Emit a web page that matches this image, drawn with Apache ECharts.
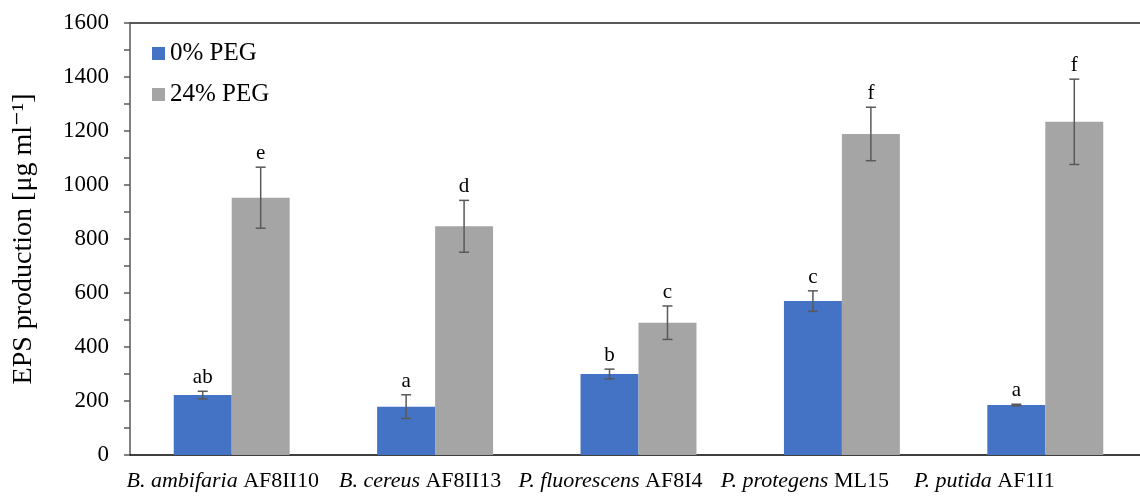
<!DOCTYPE html>
<html>
<head>
<meta charset="utf-8">
<script src="https://cdn.jsdelivr.net/npm/echarts@6/dist/echarts.min.js"></script>
<style>
  html, body { margin: 0; padding: 0; background: #fff; }
  #chart { width: 1140px; height: 502px; }
</style>
</head>
<body>
<div id="chart"></div>
<script>
const species = ['B. ambifaria', 'B. cereus', 'P. fluorescens', 'P. protegens', 'P. putida'];
const strains = ['AF8II10', 'AF8II13', 'AF8I4', 'ML15', 'AF1I1'];
const categories = species.map((s, i) => s + ' ' + strains[i]);

const peg0 = [222, 179, 300, 570, 185];
const peg0Err = [14, 44, 18, 38, 3];
const peg0Letters = ['ab', 'a', 'b', 'c', 'a'];

const peg24 = [953, 847, 490, 1189, 1234];
const peg24Err = [113, 96, 62, 99, 158];
const peg24Letters = ['e', 'd', 'c', 'f', 'f'];

const FONT = '"Liberation Serif", "DejaVu Serif", serif';
const CAT_GAP = 0.43;
// the original's labels drift left of their bar groups; emulate with a trailing spacer
const labelShift = [9, 15, 28, 37, 61];

const chart = echarts.init(document.getElementById('chart'), null, { renderer: 'canvas' });

// error bars + significance letters, side: -1 left bar, +1 right bar
function errorSeries(name, values, errs, letters, side) {
  return {
    type: 'custom',
    name: name + ' err',
    z: 5,
    clip: false,
    data: values.map((v, i) => [i, v, errs[i]]),
    renderItem: (params, api) => {
      const idx = api.value(0);
      const val = api.value(1);
      const err = api.value(2);
      const catW = api.size([1, 0])[0];
      const barW = catW * (1 - CAT_GAP) / 2;
      const center = api.coord([idx, val]);
      const x = center[0] + side * barW / 2;
      const yHi = api.coord([idx, val + err])[1];
      const yLo = api.coord([idx, val - err])[1];
      const cap = 5;
      const st = { stroke: '#595959', lineWidth: 1.5 };
      return {
        type: 'group',
        children: [
          { type: 'line', shape: { x1: x, y1: yHi, x2: x, y2: yLo }, style: st },
          { type: 'line', shape: { x1: x - cap, y1: yHi, x2: x + cap, y2: yHi }, style: st },
          { type: 'line', shape: { x1: x - cap, y1: yLo, x2: x + cap, y2: yLo }, style: st },
          {
            type: 'text',
            x: x, y: yHi - 3,
            style: {
              text: letters[idx],
              fill: '#000',
              font: '21px ' + FONT,
              textAlign: 'center',
              textVerticalAlign: 'bottom'
            }
          }
        ]
      };
    }
  };
}

const labelRich = { i: { fontStyle: 'italic', fontFamily: FONT, fontSize: 22, color: '#000' } };
labelShift.forEach((s, k) => { labelRich['sp' + k] = { width: s * 2, fontSize: 22 }; });

chart.setOption({
  animation: false,
  backgroundColor: '#fff',
  grid: {
    left: 130, top: 23, width: 1017, bottom: 47,
    outerBoundsMode: 'none'
  },
  legend: {
    orient: 'vertical',
    left: 147, top: 36,
    itemWidth: 13, itemHeight: 13, itemGap: 16,
    icon: 'rect',
    textStyle: { fontFamily: FONT, fontSize: 25, color: '#000' },
    data: ['0% PEG', '24% PEG']
  },
  xAxis: [
    {
      type: 'category',
      data: categories,
      axisLine: { lineStyle: { color: '#000', width: 1.5 } },
      axisTick: { show: false },
      axisLabel: {
        margin: 15,
        interval: 0,
        fontFamily: FONT, fontSize: 22, color: '#000',
        formatter: (v, i) => '{i|' + species[i] + '} ' + strains[i] + '{sp' + i + '|}',
        rich: labelRich
      }
    },
    {
      // top frame line only
      type: 'category',
      position: 'top',
      data: categories,
      axisLine: { lineStyle: { color: '#595959', width: 2 } },
      axisTick: { show: false },
      axisLabel: { show: false }
    }
  ],
  yAxis: {
    type: 'value',
    min: 0, max: 1600, interval: 200,
    name: 'EPS production [μg ml⁻¹]',
    nameLocation: 'middle',
    nameGap: 92,
    nameTextStyle: { fontFamily: FONT, fontSize: 28, color: '#000' },
    axisLine: { show: true, lineStyle: { color: '#595959', width: 1.5 } },
    axisTick: { show: true, length: 6, lineStyle: { color: '#595959', width: 1.5 } },
    minorTick: { show: true, splitNumber: 2, length: 6, lineStyle: { color: '#595959', width: 1.5 } },
    splitLine: { show: false },
    axisLabel: {
      margin: 21, fontFamily: FONT, fontSize: 23, color: '#000',
      formatter: v => String(v)
    }
  },
  series: [
    {
      name: '0% PEG', type: 'bar', data: peg0,
      barGap: '0%', barCategoryGap: (CAT_GAP * 100) + '%',
      itemStyle: { color: '#4472C4' }
    },
    {
      name: '24% PEG', type: 'bar', data: peg24,
      itemStyle: { color: '#A5A5A5' }
    },
    errorSeries('0% PEG', peg0, peg0Err, peg0Letters, -1),
    errorSeries('24% PEG', peg24, peg24Err, peg24Letters, 1)
  ]
});
</script>
</body>
</html>
